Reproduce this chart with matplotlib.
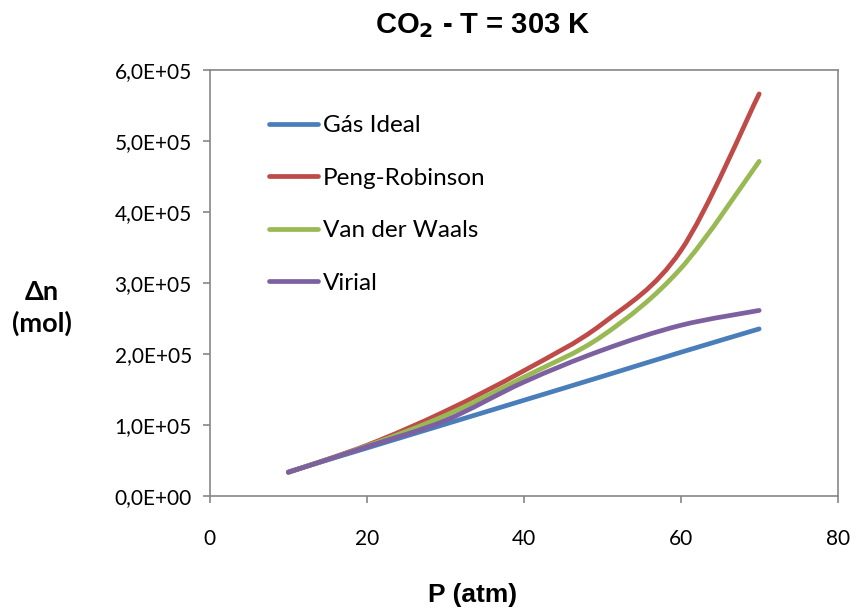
import numpy as np
import matplotlib.pyplot as plt
from matplotlib.path import Path
from matplotlib.patches import PathPatch
from matplotlib.ticker import FuncFormatter

# Data
P = [10, 20, 30, 40, 50, 60, 70]
gas_ideal = [0.336e5, 0.672e5, 1.008e5, 1.344e5, 1.68e5, 2.02e5, 2.35e5]
peng_robinson = [0.33e5, 0.71e5, 1.19e5, 1.76e5, 2.42e5, 3.45e5, 5.66e5]
van_der_waals = [0.33e5, 0.70e5, 1.13e5, 1.67e5, 2.25e5, 3.20e5, 4.71e5]
virial = [0.33e5, 0.69e5, 1.06e5, 1.60e5, 2.05e5, 2.40e5, 2.61e5]

labels = ["Gás Ideal", "Peng-Robinson", "Van der Waals", "Virial"]
colors = ["#4A7EBB", "#BE4B48", "#98B954", "#7D60A0"]


def smooth_path(x, y):
    # Excel-like smoothed line: cubic bezier through the points
    x = np.asarray(x, float)
    y = np.asarray(y, float)
    verts = [(x[0], y[0])]
    codes = [Path.MOVETO]
    n = len(x)
    for i in range(n - 1):
        x0, y0 = (x[i - 1], y[i - 1]) if i > 0 else (x[i], y[i])
        x3, y3 = (x[i + 2], y[i + 2]) if i + 2 < n else (x[i + 1], y[i + 1])
        c1 = (x[i] + (x[i + 1] - x0) / 6, y[i] + (y[i + 1] - y0) / 6)
        c2 = (x[i + 1] - (x3 - x[i]) / 6, y[i + 1] - (y3 - y[i]) / 6)
        verts += [c1, c2, (x[i + 1], y[i + 1])]
        codes += [Path.CURVE4] * 3
    return Path(verts, codes)


fig = plt.figure(figsize=(8.6, 6.12), dpi=100)
ax = fig.add_axes([0.244, 0.19, 0.730, 0.696])

tick_font = "Lato"
series = [gas_ideal, peng_robinson, van_der_waals, virial]
for vals, lab, col in zip(series, labels, colors):
    patch = PathPatch(smooth_path(P, vals), facecolor="none", edgecolor=col,
                      lw=3.4, capstyle="round", joinstyle="round")
    ax.add_patch(patch)
    ax.plot([], [], color=col, lw=3.4, solid_capstyle="round", label=lab)

ax.set_xlim(0, 80)
ax.set_ylim(0, 6e5)
ax.set_xticks([0, 20, 40, 60, 80])
ax.set_yticks(np.arange(0, 6.01e5, 1e5))
ax.yaxis.set_major_formatter(FuncFormatter(
    lambda v, pos: ("%.1E" % v).replace(".", ",")))

for sp in ax.spines.values():
    sp.set_color("#868686")
    sp.set_linewidth(1.2)
ax.tick_params(direction="out", length=5, width=1.2, color="#868686",
               labelsize=15, pad=8)
for t in ax.get_xticklabels() + ax.get_yticklabels():
    t.set_fontfamily(tick_font)
ax.tick_params(axis="x", pad=19)

fig.text(0.561, 0.958, "CO$_\\mathbf{2}$ - T = 303 K", fontsize=21,
         fontweight="bold", family="Liberation Sans", ha="center", va="center")
fig.text(0.549, 0.028, "P (atm)", fontsize=19, fontweight="bold",
         family="Liberation Sans", ha="center", va="center")
fig.text(0.049, 0.497, "Δn\n(mol)", fontsize=19.5, fontweight="bold",
         family=tick_font, ha="center", va="center", linespacing=1.3)

leg = ax.legend(loc="upper left", bbox_to_anchor=(0.06, 0.945), frameon=False,
                prop={"family": tick_font, "size": 17.5}, handlelength=2.0,
                handletextpad=0.2, labelspacing=1.3)

fig.savefig("out.png", dpi=100)
